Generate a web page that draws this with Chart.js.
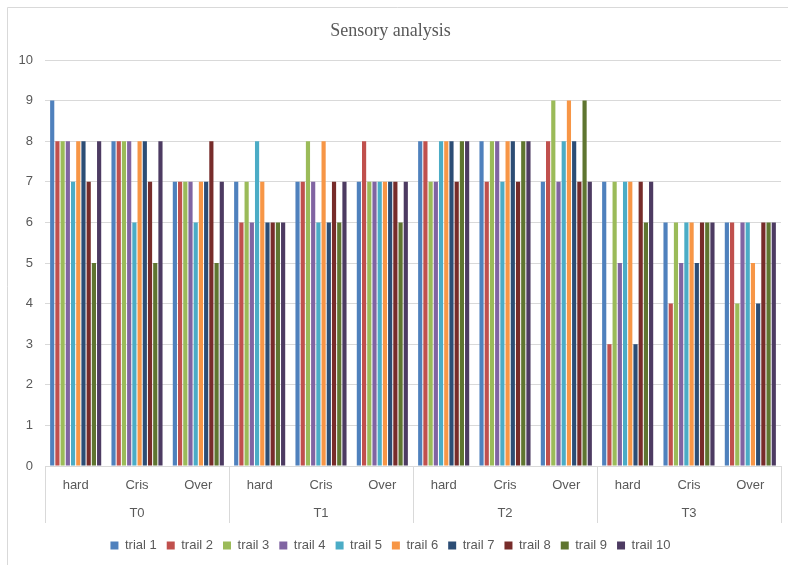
<!DOCTYPE html>
<html>
<head>
<meta charset="utf-8">
<script src="https://cdn.jsdelivr.net/npm/chart.js@4/dist/chart.umd.min.js"></script>
<style>
  html, body { margin: 0; padding: 0; background: #ffffff; }
  #wrap { width: 788px; height: 565px; position: relative; }
</style>
</head>
<body>
<div id="wrap"><canvas id="chart"></canvas></div>
<script>
// Sensory scores per attribute, grouped by treatment
const attributes = ['hard', 'Cris', 'Over'];
const treatments = ['T0', 'T1', 'T2', 'T3'];
const categories = treatments.flatMap(() => attributes);

const seriesNames = ['trial 1', 'trail 2', 'trail 3', 'trail 4', 'trail 5',
                     'trail 6', 'trail 7', 'trail 8', 'trail 9', 'trail 10'];

//             T0 hard/Cris/Over  T1        T2        T3
const trial1  = [9, 8, 7,        7, 7, 7,  8, 8, 7,  7, 6, 6];
const trail2  = [8, 8, 7,        6, 7, 8,  8, 7, 8,  3, 4, 6];
const trail3  = [8, 8, 7,        7, 8, 7,  7, 8, 9,  7, 6, 4];
const trail4  = [8, 8, 7,        6, 7, 7,  7, 8, 7,  5, 5, 6];
const trail5  = [7, 6, 6,        8, 6, 7,  8, 7, 8,  7, 6, 6];
const trail6  = [8, 8, 7,        7, 8, 7,  8, 8, 9,  7, 6, 5];
const trail7  = [8, 8, 7,        6, 6, 7,  8, 8, 8,  3, 5, 4];
const trail8  = [7, 7, 8,        6, 7, 7,  7, 7, 7,  7, 6, 6];
const trail9  = [5, 5, 5,        6, 6, 6,  8, 8, 9,  6, 6, 6];
const trail10 = [8, 8, 7,        6, 7, 7,  8, 8, 7,  7, 6, 6];

const seriesValues = [trial1, trail2, trail3, trail4, trail5,
                      trail6, trail7, trail8, trail9, trail10];

const colors = ['#4F81BD', '#C0504D', '#9BBB59', '#8064A2', '#4BACC6',
                '#F79646', '#2C4D75', '#772C2A', '#5F7530', '#4D3B62'];

const yTicks = { min: 0, max: 10, step: 1 };

const textGray = '#595959';
const lineGray = '#d9d9d9';
const sansFont = "'Liberation Sans', Arial, sans-serif";

// Outer frame of the chart object (top and left edges)
const framePlugin = {
  id: 'frame',
  beforeDraw(chart) {
    const ctx = chart.ctx;
    ctx.save();
    ctx.fillStyle = '#ffffff';
    ctx.fillRect(0, 0, chart.width, chart.height);
    ctx.strokeStyle = lineGray;
    ctx.lineWidth = 1;
    ctx.beginPath();
    ctx.moveTo(7.5, chart.height);
    ctx.lineTo(7.5, 7.5);
    ctx.lineTo(chart.width, 7.5);
    ctx.stroke();
    ctx.restore();
  }
};

// Vertical separators between treatment groups on the two-level category axis
const groupSeparators = {
  id: 'groupSeparators',
  afterDraw(chart) {
    const xs = chart.scales.x;
    const x2 = chart.scales.x2;
    const ctx = chart.ctx;
    ctx.save();
    ctx.strokeStyle = lineGray;
    ctx.lineWidth = 1;
    for (let g = 0; g <= treatments.length; g++) {
      const px = Math.round(xs.getPixelForValue(g * attributes.length - 0.5)) + 0.5;
      ctx.beginPath();
      ctx.moveTo(px, chart.chartArea.bottom);
      ctx.lineTo(px, x2.top + 25);
      ctx.stroke();
    }
    ctx.restore();
  }
};

new Chart(document.getElementById('chart'), {
  type: 'bar',
  data: {
    labels: categories,
    datasets: seriesNames.map((name, i) => ({
      label: name,
      data: seriesValues[i],
      backgroundColor: colors[i],
      borderWidth: 0,
      categoryPercentage: 0.85,
      barPercentage: 0.8
    }))
  },
  options: {
    responsive: true,
    maintainAspectRatio: false,
    animation: false,
    layout: { padding: { left: 0, right: 7, top: 0, bottom: 3 } },
    plugins: {
      title: {
        display: true,
        text: 'Sensory analysis',
        color: textGray,
        font: { family: "'Liberation Serif', 'Times New Roman', serif", size: 18, weight: 'normal' },
        padding: { top: 20, bottom: 18.4 }
      },
      legend: {
        position: 'bottom',
        labels: {
          color: textGray,
          font: { family: sansFont, size: 13 },
          boxWidth: 8,
          boxHeight: 8,
          padding: 10
        }
      },
      tooltip: { enabled: false }
    },
    scales: {
      x: {
        type: 'category',
        position: 'bottom',
        weight: 0,
        offset: true,
        grid: { display: false, drawTicks: false },
        border: { display: true, color: lineGray },
        ticks: { color: textGray, font: { family: sansFont, size: 13 }, padding: 12, maxRotation: 0, autoSkip: false },
        afterFit(scale) { scale.height = 32; }
      },
      x2: {
        type: 'category',
        position: 'bottom',
        weight: 1,
        labels: treatments,
        offset: true,
        grid: { display: false, drawTicks: false },
        border: { display: false },
        ticks: { color: textGray, font: { family: sansFont, size: 13 }, padding: 8, maxRotation: 0, autoSkip: false },
        afterFit(scale) { scale.height = 31; }
      },
      y: {
        min: yTicks.min,
        max: yTicks.max,
        grid: { color: lineGray, drawTicks: false },
        border: { display: false },
        ticks: { stepSize: yTicks.step, color: textGray, font: { family: sansFont, size: 13 }, padding: 12 },
        afterFit(scale) { scale.width = 45; }
      }
    }
  },
  plugins: [framePlugin, groupSeparators]
});
</script>
</body>
</html>
